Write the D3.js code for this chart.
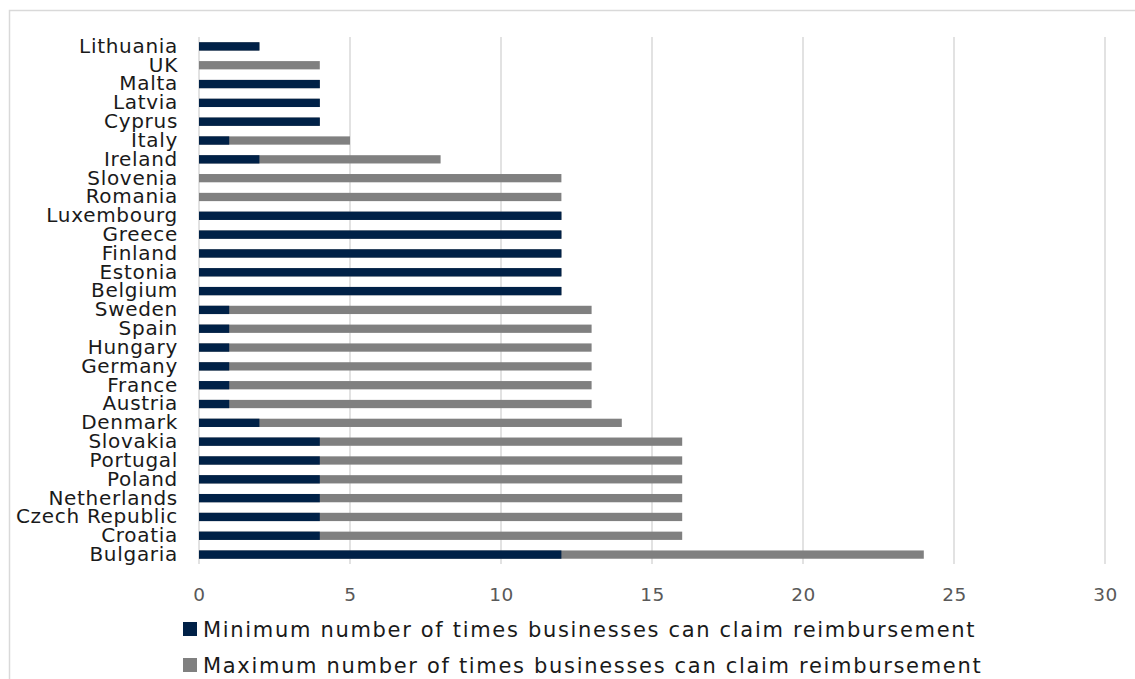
<!DOCTYPE html>
<html><head><meta charset="utf-8">
<script src="https://cdn.jsdelivr.net/npm/d3@7"></script>
<style>
html,body{margin:0;padding:0;background:#fff;}
svg{display:block;}
</style></head>
<body>
<script>
const countries = ["Lithuania","UK","Malta","Latvia","Cyprus","Italy","Ireland","Slovenia","Romania","Luxembourg","Greece","Finland","Estonia","Belgium","Sweden","Spain","Hungary","Germany","France","Austria","Denmark","Slovakia","Portugal","Poland","Netherlands","Czech Republic","Croatia","Bulgaria"];
const minValues = [2,0,4,4,4,1,2,0,0,12,12,12,12,12,1,1,1,1,1,1,2,4,4,4,4,4,4,12];
const maxValues = [2,4,4,4,4,5,8,12,12,12,12,12,12,12,13,13,13,13,13,13,14,16,16,16,16,16,16,24];
const xTicks = [0,5,10,15,20,25,30];
const seriesNames = ["Minimum number of times businesses can claim reimbursement","Maximum number of times businesses can claim reimbursement"];
const colors = ["#002147","#808080"];

const W = 1135, H = 679;
const svg = d3.select("body").append("svg").attr("width", W).attr("height", H);
svg.append("rect").attr("x",9.5).attr("y",10.5).attr("width",W+20).attr("height",H+20)
  .attr("fill","none").attr("stroke","#d9d9d9").attr("stroke-width",1.5);

const x = d3.scaleLinear().domain([0,30]).range([199,1105]);
const y = d3.scaleBand().domain(countries).range([37,564]).paddingInner(0.56).paddingOuter(0.28);

// grid
svg.append("g").selectAll("line").data(xTicks).join("line")
  .attr("x1",d=>x(d)).attr("x2",d=>x(d)).attr("y1",37).attr("y2",564)
  .attr("stroke","#d9d9d9").attr("stroke-width",1.5);

const rows = countries.map((c,i)=>({c, min:minValues[i], max:maxValues[i]}));
svg.append("g").selectAll("rect").data(rows).join("rect")
  .attr("x",x(0)).attr("y",d=>y(d.c)).attr("height",y.bandwidth())
  .attr("width",d=>x(d.max)-x(0)).attr("fill",colors[1]);
svg.append("g").selectAll("rect").data(rows).join("rect")
  .attr("x",x(0)).attr("y",d=>y(d.c)).attr("height",y.bandwidth())
  .attr("width",d=>x(d.min)-x(0)).attr("fill",colors[0]);

// y labels
const yAxis = svg.append("g").attr("transform",`translate(${x(0)},0)`)
  .call(d3.axisLeft(y).tickSize(0).tickPadding(21));
yAxis.select(".domain").remove();
yAxis.selectAll("text").attr("font-family","DejaVu Sans").attr("font-size","20px")
  .attr("letter-spacing","0.7px").attr("fill","#1a1a1a");

// x labels
const xAxis = svg.append("g").attr("transform",`translate(0,564)`)
  .call(d3.axisBottom(x).tickValues(xTicks).tickSize(0).tickPadding(24));
xAxis.select(".domain").remove();
xAxis.selectAll("text").attr("font-family","DejaVu Sans").attr("font-size","18.5px")
  .attr("letter-spacing","0.5px").attr("fill","#595959");

// legend
const lg = svg.append("g");
seriesNames.forEach((n,i)=>{
  const cy = 629 + i*36;
  lg.append("rect").attr("x",183).attr("y",cy-7).attr("width",14).attr("height",14).attr("fill",colors[i]);
  lg.append("text").attr("x",203).attr("y",cy).attr("dy","0.36em")
    .attr("font-family","DejaVu Sans").attr("font-size","21px").attr("letter-spacing","1.68px")
    .attr("fill","#1a1a1a").text(n);
});
</script>
</body></html>
